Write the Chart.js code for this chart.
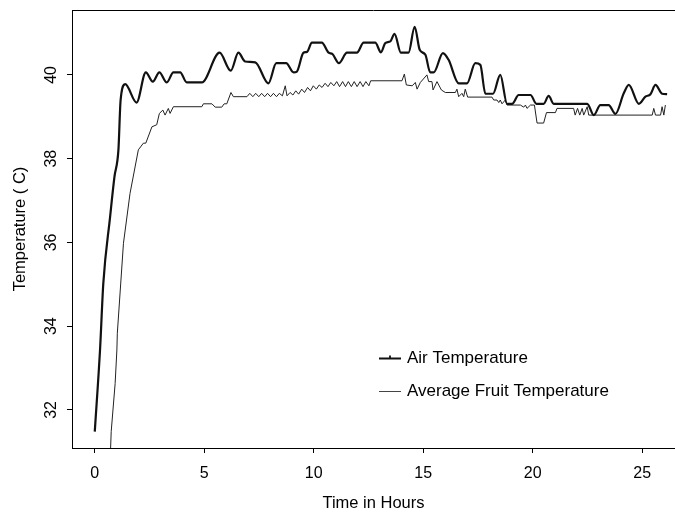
<!DOCTYPE html>
<html lang="en">
<head>
  <meta charset="UTF-8" />
  <title>Air and Fruit Temperature</title>
  <script src="https://cdn.jsdelivr.net/npm/chart.js"></script>
  <style>
    html, body { margin: 0; padding: 0; background: #fff; }
    #wrap { width: 675px; height: 513px; }
  </style>
</head>
<body>
  <div id="wrap"><canvas id="tempChart" width="675" height="513"></canvas></div>

  <script>
    // values
    const seriesNames = ["Air Temperature", "Average Fruit Temperature"];

    const airHours = [0.00, 0.24, 0.39, 0.70, 0.90, 1.08, 1.18, 1.39, 1.91, 2.33, 2.65, 2.95, 3.29, 3.59, 3.90,
      4.20, 4.89, 5.70, 6.21, 6.56, 6.87, 7.33, 7.93, 8.29, 8.74, 9.08, 9.23, 9.53, 9.69, 9.92, 10.37,
      10.68, 10.85, 11.15, 11.52, 11.97, 12.28, 12.81, 13.07, 13.27, 13.50, 13.69, 13.98, 14.33, 14.61,
      14.84, 15.10, 15.32, 15.48, 15.90, 16.16, 16.62, 17.00, 17.38, 17.61, 17.84, 18.19, 18.52, 18.83,
      19.06, 19.36, 19.90, 20.17, 20.50, 20.73, 20.96, 22.49, 22.79, 23.09, 23.47, 23.78, 24.16, 24.39,
      24.85, 25.15, 25.38, 25.61, 25.91, 26.14];
    const airTemp = [31.48, 33.43, 35.02, 36.61, 37.57, 38.21, 39.40, 39.78, 39.34, 40.06, 39.84, 40.06, 39.82, 40.06, 40.06,
      39.82, 39.82, 40.53, 40.10, 40.53, 40.32, 40.30, 39.80, 40.28, 40.28, 40.06, 40.08, 40.53, 40.55, 40.77, 40.77,
      40.53, 40.50, 40.28, 40.53, 40.53, 40.77, 40.77, 40.54, 40.76, 40.80, 40.98, 40.53, 40.53, 41.15,
      40.60, 40.48, 40.06, 40.06, 40.52, 40.36, 39.80, 39.80, 40.28, 40.24, 39.55, 39.55, 40.00, 39.31,
      39.31, 39.52, 39.52, 39.31, 39.31, 39.50, 39.31, 39.31, 39.04, 39.28, 39.28, 39.07, 39.56, 39.76,
      39.31, 39.48, 39.54, 39.76, 39.55, 39.54];

    const fruitHours = [0.71, 0.75, 0.93, 1.01, 1.03, 1.31, 1.61, 1.99, 2.22, 2.33, 2.61, 2.83, 2.95, 3.11, 3.21,
      3.36, 3.44, 3.59, 4.89, 4.96, 5.35, 5.50, 5.80, 5.91, 6.03, 6.22, 6.33, 6.95,
      7.08, 7.22, 7.35, 7.49, 7.62, 7.76, 7.89, 8.03, 8.16, 8.30, 8.43, 8.57, 8.70,
      8.78, 8.92, 9.05, 9.18, 9.31, 9.45, 9.58, 9.72, 9.85, 9.98, 10.12, 10.25, 10.38, 10.52, 10.65, 10.78, 10.92,
      11.05, 11.18, 11.32, 11.45, 11.58, 11.72, 11.85, 11.98, 12.12, 12.25, 12.38, 12.52, 12.60,
      14.03, 14.14, 14.23, 14.50, 14.64, 14.72, 14.87, 15.17, 15.25, 15.40, 15.45, 15.63, 15.83, 16.01,
      16.47, 16.54, 16.62, 16.77, 16.85, 16.92, 17.03, 18.14, 18.22, 18.37, 18.45, 18.52, 18.60, 18.75, 18.83,
      19.44, 19.59, 19.67, 19.74, 19.90, 20.08, 20.20, 20.50, 20.63, 21.04, 21.11, 21.87,
      21.94, 22.05, 22.15, 22.26, 22.33, 22.49, 22.56, 25.46, 25.53, 25.61, 25.84, 25.91, 25.99, 26.06];
    const fruitTemp = [30.90, 31.48, 32.63, 33.43, 33.83, 35.98, 37.17, 38.21, 38.37, 38.37, 38.76, 38.81, 39.08, 39.16, 39.04,
      39.20, 39.08, 39.24, 39.24, 39.31, 39.31, 39.23, 39.23, 39.31, 39.31, 39.58, 39.48, 39.48,
      39.56, 39.48, 39.56, 39.48, 39.56, 39.48, 39.56, 39.48, 39.56, 39.48, 39.56, 39.50, 39.74,
      39.50, 39.58, 39.52, 39.62, 39.54, 39.66, 39.58, 39.70, 39.62, 39.74, 39.66, 39.76, 39.70, 39.80, 39.72, 39.82, 39.74,
      39.84, 39.72, 39.84, 39.72, 39.84, 39.72, 39.84, 39.72, 39.84, 39.72, 39.84, 39.74, 39.86,
      39.86, 40.02, 39.76, 39.74, 39.82, 39.66, 39.82, 40.00, 39.84, 39.84, 39.64, 39.84, 39.64, 39.58,
      39.58, 39.66, 39.48, 39.56, 39.48, 39.66, 39.47, 39.47, 39.40, 39.40, 39.34, 39.40, 39.31, 39.40, 39.28,
      39.28, 39.23, 39.28, 39.20, 39.28, 39.28, 38.85, 38.85, 39.10, 39.10, 39.20, 39.20,
      39.04, 39.20, 39.04, 39.20, 39.04, 39.24, 39.04, 39.04, 39.20, 39.04, 39.04, 39.24, 39.04, 39.28];

    const xTicks = [0, 5, 10, 15, 20, 25];
    const yTicks = [32, 34, 36, 38, 40];

    const FONT = "'Liberation Sans', Arial, Helvetica, sans-serif";

    function toPoints(xs, ys) {
      return xs.map((x, i) => ({ x: x, y: ys[i] }));
    }

    // legend inside the plot + top edge of the box
    const boxAndLegend = {
      id: "boxAndLegend",
      afterDraw(chart) {
        const ctx = chart.ctx;
        const a = chart.chartArea;
        ctx.save();
        ctx.strokeStyle = "#000";
        ctx.lineWidth = 1;
        ctx.beginPath();
        ctx.moveTo(a.left, a.top + 0.5);
        ctx.lineTo(a.right, a.top + 0.5);
        ctx.stroke();

        const lx = a.left + 307;
        const ly = [a.top + 348, a.top + 381];
        ctx.font = "17px " + FONT;
        ctx.fillStyle = "#000";
        ctx.textBaseline = "middle";

        ctx.lineWidth = 1.8;
        ctx.strokeStyle = "#111";
        ctx.beginPath();
        ctx.moveTo(lx, ly[0] + 0.5);
        ctx.lineTo(lx + 22, ly[0] + 0.5);
        ctx.moveTo(lx + 11, ly[0] + 0.5);
        ctx.lineTo(lx + 11, ly[0] - 2.5);
        ctx.stroke();
        ctx.fillText(seriesNames[0], lx + 28, ly[0]);

        ctx.lineWidth = 1;
        ctx.strokeStyle = "#444";
        ctx.beginPath();
        ctx.moveTo(lx, ly[1] + 0.5);
        ctx.lineTo(lx + 22, ly[1] + 0.5);
        ctx.stroke();
        ctx.fillText(seriesNames[1], lx + 28, ly[1]);
        ctx.restore();
      }
    };

    const ctx = document.getElementById("tempChart").getContext("2d");
    new Chart(ctx, {
      type: "line",
      data: {
        datasets: [{
          label: seriesNames[0],
          data: toPoints(airHours, airTemp),
          borderColor: "#111",
          borderWidth: 2.2,
          pointRadius: 0,
          cubicInterpolationMode: "monotone",
          fill: false
        }, {
          label: seriesNames[1],
          data: toPoints(fruitHours, fruitTemp),
          borderColor: "#222",
          borderWidth: 1,
          pointRadius: 0,
          tension: 0,
          fill: false
        }]
      },
      options: {
        responsive: false,
        animation: false,
        devicePixelRatio: 1,
        layout: { padding: { top: 10, right: 0, left: 0, bottom: 0 } },
        plugins: {
          legend: { display: false },
          tooltip: { enabled: false }
        },
        scales: {
          x: {
            type: "linear",
            min: -1.04,
            max: 26.5,
            afterBuildTicks: s => { s.ticks = xTicks.map(v => ({ value: v })); },
            afterFit: s => { s.height = 65; s.paddingLeft = 0; s.paddingRight = 0; },
            grid: { drawOnChartArea: false, drawTicks: true, tickLength: 5, color: "#000" },
            border: { display: true, color: "#000", width: 1 },
            ticks: { color: "#000", font: { family: FONT, size: 16 }, padding: 11, maxRotation: 0 },
            title: {
              display: true,
              text: "Time in Hours",
              color: "#000",
              font: { family: FONT, size: 16.5 },
              padding: { top: 0, bottom: 0 }
            }
          },
          y: {
            type: "linear",
            min: 31.09,
            max: 41.55,
            afterBuildTicks: s => { s.ticks = yTicks.map(v => ({ value: v })); },
            afterFit: s => { s.width = 72; s.paddingTop = 0; s.paddingBottom = 0; },
            grid: { drawOnChartArea: false, drawTicks: true, tickLength: 5, color: "#000" },
            border: { display: true, color: "#000", width: 1 },
            ticks: {
              color: "#000",
              font: { family: FONT, size: 16 },
              minRotation: 90,
              maxRotation: 90,
              crossAlign: "center",
              padding: 7
            },
            title: {
              display: true,
              text: "Temperature ( C)",
              color: "#000",
              font: { family: FONT, size: 16.5 },
              padding: { top: 11, bottom: 0 }
            }
          }
        }
      },
      plugins: [boxAndLegend]
    });
  </script>
</body>
</html>
